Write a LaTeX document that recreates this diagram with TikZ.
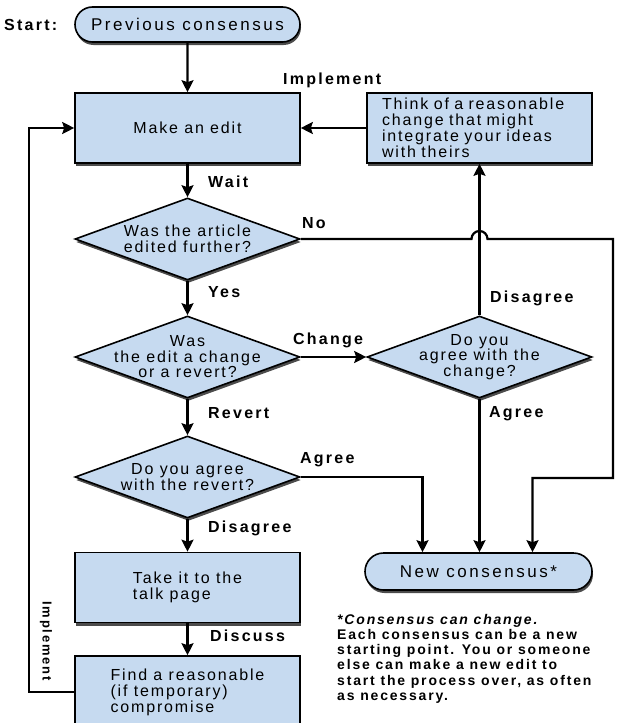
\documentclass[tikz,border=0pt]{standalone}
\usepackage{fontspec}
\setmainfont{Liberation Sans}[LetterSpace=11.5]
\newfontfamily\termfont{Liberation Sans}[LetterSpace=15]
\newfontfamily\labfont{Liberation Sans}[LetterSpace=14]
\newfontfamily\notefont{Liberation Sans}[LetterSpace=13]
\usetikzlibrary{arrows.meta,shapes.geometric,shapes.misc,shadows,calc,positioning}

\definecolor{boxblue}{RGB}{198,218,240}

\tikzset{
  box/.style={draw, line width=1.6pt, fill=boxblue, minimum width=225pt,
    minimum height=70pt, inner sep=0pt, font=\fontsize{16}{16}\selectfont,
    drop shadow={shadow xshift=1pt, shadow yshift=-3pt, fill=black!70, opacity=1}},
  term/.style={box, rounded rectangle, minimum height=35pt,
    font=\termfont\fontsize{17}{18}\selectfont},
  decision/.style={box, diamond, minimum width=225pt, minimum height=82pt},
  dtext/.style={align=center, inner sep=0pt, font=\fontsize{16}{15.5}\selectfont},
  lab/.style={inner sep=0pt, font=\labfont\bfseries\fontsize{16}{16}\selectfont},
  arr/.style={-{Stealth[length=12pt,width=12pt,inset=2pt]}, line width=2.2pt},
}

\begin{document}
\begin{tikzpicture}[x=1pt,y=-1pt]
\useasboundingbox (0,0) rectangle (618,723);

% left column
\node[term] (start) at (187.5,24.5) {Previous consensus};
\node[lab, anchor=west] (startlab) at (4,25) {Start:};
\node[box] (edit) at (187.5,128) {Make an edit};
\node[decision, label={[dtext]center:Was the article\\edited further?}] (q1) at (187.5,239) {};
\node[decision, label={[dtext]center:Was\\the edit a change\\or a revert?}] (q2) at (187.5,357) {};
\node[decision, label={[dtext]center:Do you agree\\with the revert?}] (q4) at (187.5,477) {};
\node[box, align=left] (talk) at (187.5,587.5) {Take it to the\\talk page};
\node[box, align=left, minimum height=72pt] (comp) at (187.5,692) {Find a reasonable\\(if temporary)\\compromise};

% right column
\node[box, text width=195pt, align=left] (think) at (479.5,128) {Think of a reasonable\\change that might\\integrate your ideas\\with theirs};
\node[decision, label={[dtext]center:Do you\\agree with the\\change?}] (q3) at (479.5,357) {};
\node[term, minimum width=227pt, minimum height=37pt] (newc) at (478.5,571.5) {New consensus*};

% labels
\node[lab, anchor=west] (limp) at (283,80) {Implement};
\node[lab, anchor=west] (lwait) at (208,182) {Wait};
\node[lab, anchor=west] (lno) at (302,223) {No};
\node[lab, anchor=west] (lyes) at (208,292) {Yes};
\node[lab, anchor=west] (lchange) at (293,340) {Change};
\node[lab, anchor=west] (ldis1) at (490,298) {Disagree};
\node[lab, anchor=west] (lagree1) at (489,414) {Agree};
\node[lab, anchor=west] (lrevert) at (208,413) {Revert};
\node[lab, anchor=west] (lagree2) at (300,460) {Agree};
\node[lab, anchor=west] (ldis2) at (208,528) {Disagree};
\node[lab, anchor=west] (ldiscuss) at (210,636) {Discuss};
\node[lab, rotate=-90, font=\labfont\bfseries\fontsize{13}{13}\selectfont] (limp2) at (46,641) {Implement};

% note
\node[anchor=north west, align=left, inner sep=0pt,
  font=\notefont\bfseries\fontsize{14}{15.2}\selectfont] (note) at (337,614)
  {\textit{*Consensus can change.}\\Each consensus can be a new\\starting point. You or someone\\else can make a new edit to\\start the process over, as often\\as necessary.};

% connectors
\draw[arr] (start) -- (edit);
\draw[arr] (think) -- (edit);
\draw[arr] (edit) -- (q1);
\draw[arr] (q1) -- (q2);
\draw[arr] (q2) -- (q3);
\draw[arr] (q2) -- (q4);
\draw[arr] (q4) -- (talk);
\draw[arr] (talk) -- (comp);
\draw[arr] (q3) -- (think);
\draw[arr] (q3.south) -- (q3.south |- newc.north);
\draw[arr] (q4.east) -| ([xshift=-56pt]newc.north);
\coordinate (noturn) at (613,478);
\draw[arr] (q1.east) -- ($(q1.east -| q3.north)+(-8,0)$)
  arc[start angle=180, end angle=0, radius=8pt]
  -- (q1.east -| noturn) -- (noturn) -| ([xshift=54pt]newc.north);
\draw[arr] (comp.west) -- ++(-45,0) |- (edit.west);

\end{tikzpicture}
\end{document}
